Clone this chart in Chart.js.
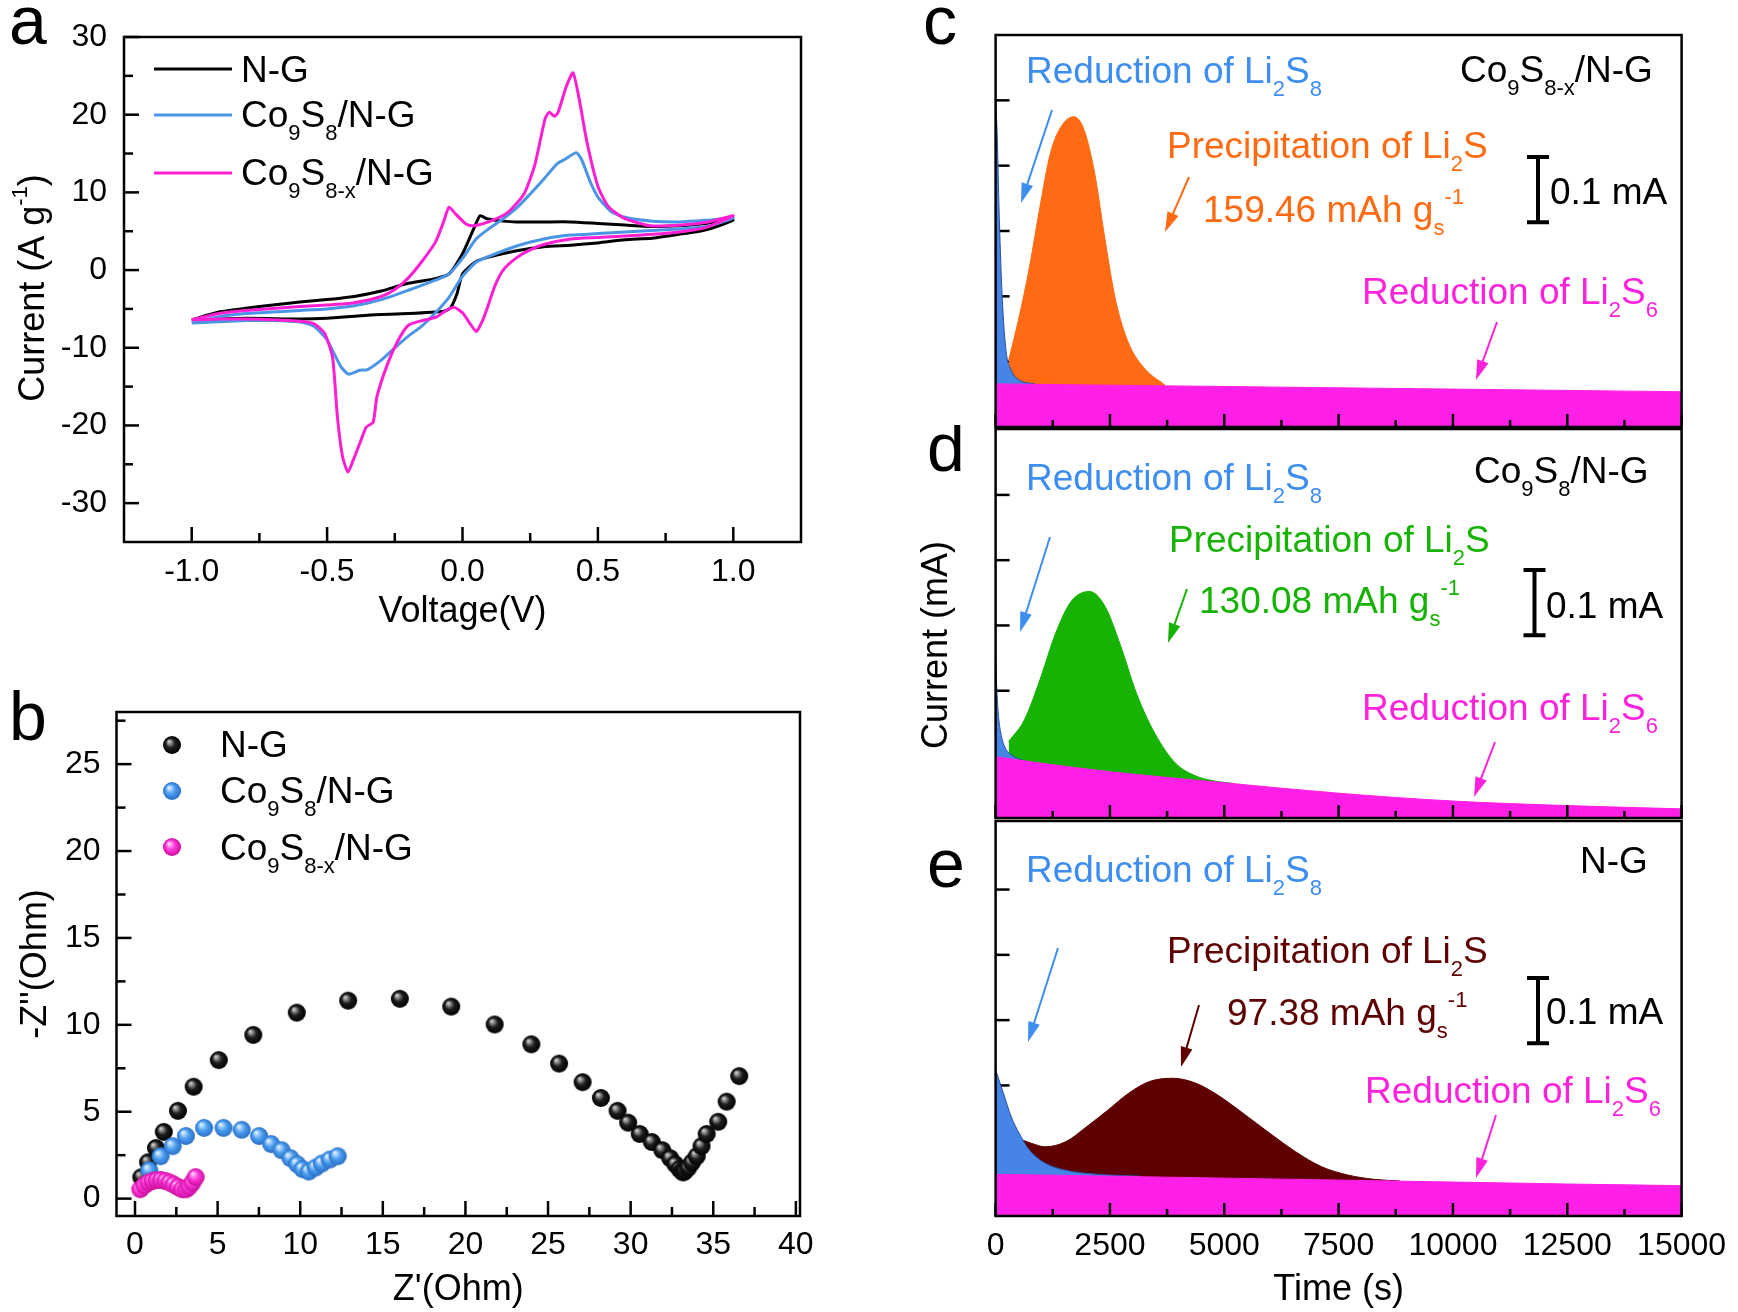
<!DOCTYPE html>
<html>
<head>
<meta charset="utf-8">
<script src="https://cdn.jsdelivr.net/npm/chart.js@4.4.0/dist/chart.umd.min.js"></script>
<style>
  body { margin: 0; background: #fff; }
  #wrap { position: relative; width: 1738px; height: 1312px; overflow: hidden; background: #fff; }
  canvas { position: absolute; }
</style>
</head>
<body>
<div id="wrap">
  <canvas id="cA" width="870" height="650" style="left:0;top:0"></canvas>
  <canvas id="cB" width="870" height="652" style="left:0;top:660px"></canvas>
  <canvas id="cC" width="868" height="430" style="left:870px;top:0"></canvas>
  <canvas id="cD" width="868" height="397" style="left:870px;top:425px"></canvas>
  <canvas id="cE" width="868" height="494" style="left:870px;top:818px"></canvas>
</div>
<script>
// ---- panel a : CV curves (voltage V, current A/g), one closed loop per sample
const ngV = [-1.0, -0.9, -0.8, -0.7, -0.6, -0.5, -0.4, -0.3, -0.2, -0.1, -0.05, 0.0, 0.04, 0.065, 0.09, 0.15, 0.2, 0.3, 0.4, 0.5, 0.6, 0.7, 0.8, 0.9, 1.0,
             0.9, 0.8, 0.7, 0.6, 0.5, 0.4, 0.3, 0.2, 0.1, 0.05, 0.0, -0.02, -0.045, -0.07, -0.2, -0.35, -0.5, -0.6, -0.8, -1.0];
const ngI = [-6.4, -5.4, -4.9, -4.5, -4.1, -3.8, -3.4, -2.7, -1.7, -1.1, -0.5, 2.1, 5.2, 7.0, 6.6, 6.3, 6.2, 6.2, 6.2, 6.0, 5.8, 5.6, 5.7, 6.0, 6.4,
             5.2, 4.6, 4.1, 3.9, 3.5, 3.2, 3.0, 2.5, 1.7, 1.1, -0.5, -3.0, -4.9, -5.3, -5.6, -5.8, -6.2, -6.3, -6.2, -6.4];

const coV = [-1.0, -0.9, -0.8, -0.6, -0.5, -0.4, -0.3, -0.2, -0.1, -0.05, 0.0, 0.05, 0.1, 0.15, 0.2, 0.25, 0.3, 0.35, 0.38, 0.42, 0.44, 0.47, 0.5, 0.55, 0.6, 0.7, 0.8, 0.9, 1.0,
             0.9, 0.8, 0.7, 0.6, 0.5, 0.4, 0.3, 0.2, 0.1, 0.05, 0.0, -0.05, -0.1, -0.15, -0.2, -0.25, -0.3, -0.35, -0.38, -0.42, -0.45, -0.5, -0.55, -0.6, -0.7, -0.8, -1.0];
const coI = [-6.8, -6.0, -5.6, -5.2, -5.0, -4.6, -3.8, -2.6, -1.3, -0.5, 1.5, 4.0, 5.4, 6.6, 8.0, 9.8, 11.7, 13.7, 14.3, 15.1, 14.2, 11.5, 9.4, 7.5, 6.8, 6.3, 6.2, 6.4, 6.7,
             5.6, 5.3, 5.1, 4.9, 4.7, 4.5, 4.0, 3.1, 1.8, 1.0, -0.8, -3.5, -5.5, -7.2, -8.5, -10.0, -11.6, -12.8, -12.9, -13.4, -12.4, -9.0, -7.2, -6.7, -6.5, -6.5, -6.8];

const cxV = [-1.0, -0.9, -0.8, -0.6, -0.5, -0.4, -0.3, -0.25, -0.2, -0.15, -0.1, -0.07, -0.05, -0.025, 0.014, 0.043, 0.11, 0.17, 0.227, 0.266, 0.305, 0.32, 0.34, 0.353, 0.383, 0.408, 0.431, 0.46, 0.5, 0.538, 0.596, 0.693, 0.81, 0.907, 1.0,
             0.9, 0.8, 0.7, 0.6, 0.5, 0.4, 0.3, 0.25, 0.2, 0.15, 0.12, 0.1, 0.08, 0.06, 0.05, 0.03, 0.0, -0.03, -0.06, -0.1, -0.15, -0.2, -0.24, -0.278, -0.316, -0.33, -0.355, -0.375, -0.404, -0.423, -0.443, -0.462, -0.48, -0.51, -0.55, -0.6, -0.7, -0.8, -0.9, -1.0];
const cxI = [-6.4, -5.6, -5.2, -4.7, -4.5, -4.2, -3.4, -2.5, -1.0, 1.1, 3.6, 6.2, 8.1, 7.2, 5.9, 5.7, 6.4, 7.5, 9.8, 13.4, 19.5, 20.3, 19.8, 20.3, 23.6, 25.4, 22.0, 16.4, 10.8, 8.2, 6.7, 5.7, 5.8, 6.2, 7.0,
             5.5, 4.9, 4.6, 4.4, 4.2, 4.0, 3.3, 2.6, 1.6, 0.0, -2.0, -4.0, -6.0, -7.5, -7.9, -7.0, -5.5, -4.8, -5.2, -6.1, -6.5, -7.1, -9.2, -12.2, -16.3, -19.6, -20.2, -21.9, -24.5, -26.0, -24.0, -18.9, -11.2, -8.1, -6.9, -6.6, -6.4, -6.3, -6.3, -6.4];

const cvXTicks = [-1.0, -0.5, 0.0, 0.5, 1.0];
const cvXMinor = [-0.75, -0.25, 0.25, 0.75];
const cvYTicks = [-30, -20, -10, 0, 10, 20, 30];
const cvYMinor = [-25, -15, -5, 5, 15, 25];

// ---- panel b : Nyquist plots (Z' , -Z'' in Ohm)
const ngZre = [0.38, 0.79, 1.27, 1.74, 2.60, 3.55, 5.07, 7.16, 9.79, 12.9, 16.03, 19.14, 21.77, 23.99, 25.67, 27.09, 28.2, 29.21, 29.85, 30.55, 31.28, 31.91, 32.39, 32.7, 32.96, 33.1, 33.18, 33.3, 33.49, 33.72, 34.0, 34.29, 34.6, 35.3, 35.81, 36.57];
const ngZim = [1.23, 2.09, 2.91, 3.84, 5.05, 6.44, 7.97, 9.42, 10.70, 11.39, 11.5, 11.05, 10.02, 8.88, 7.77, 6.70, 5.79, 5.05, 4.37, 3.72, 3.26, 2.79, 2.33, 1.98, 1.70, 1.58, 1.51, 1.6, 1.78, 2.09, 2.44, 3.02, 3.72, 4.42, 5.58, 7.05];
const coZre = [0.86, 1.55, 2.28, 3.08, 4.18, 5.36, 6.46, 7.51, 8.24, 8.87, 9.41, 9.82, 10.14, 10.52, 10.93, 11.31, 11.79, 12.27];
const coZim = [1.63, 2.44, 3.02, 3.60, 4.07, 4.07, 3.96, 3.60, 3.14, 2.79, 2.33, 1.98, 1.70, 1.56, 1.79, 2.02, 2.25, 2.44];
const cxZre = [0.32, 0.57, 0.82, 1.07, 1.33, 1.58, 1.84, 2.09, 2.34, 2.60, 2.85, 3.1, 3.29, 3.48, 3.67];
const cxZim = [0.54, 0.77, 0.93, 1.02, 1.07, 1.07, 1.02, 0.93, 0.81, 0.67, 0.54, 0.54, 0.70, 0.93, 1.24];

const eisXTicks = [0, 5, 10, 15, 20, 25, 30, 35, 40];
const eisXMinor = [2.5, 7.5, 12.5, 17.5, 22.5, 27.5, 32.5, 37.5];
const eisYTicks = [0, 5, 10, 15, 20, 25];
const eisYMinor = [2.5, 7.5, 12.5, 17.5, 22.5, 27.5];

// ---- panels c, d, e : potentiostatic discharge (time s, current mA)
// c : Co9S8-x/N-G
const cT6 = [0, 2500, 5000, 7500, 10000, 12500, 15000];
const cI6 = [0.066, 0.064, 0.062, 0.060, 0.058, 0.056, 0.054];
const cT8 = [0, 34, 80, 148, 228, 342, 513, 855];
const cI8 = [0.500, 0.449, 0.322, 0.194, 0.117, 0.087, 0.072, 0.066];
const cTp = [285, 513, 741, 970, 1198, 1426, 1711, 1939, 2167, 2395, 2624, 2909, 3251, 3707];
const cIp = [0.102, 0.168, 0.245, 0.337, 0.419, 0.459, 0.475, 0.454, 0.388, 0.286, 0.194, 0.128, 0.090, 0.064];
// d : Co9S8/N-G
const dT6 = [0, 1000, 2500, 5000, 7500, 10000, 12500, 15000];
const dI6 = [0.099, 0.089, 0.076, 0.059, 0.043, 0.031, 0.024, 0.019];
const dT8 = [0, 23, 57, 114, 194, 342, 570, 800];
const dI8 = [0.250, 0.207, 0.166, 0.135, 0.115, 0.102, 0.094, 0.090];
const dTp = [285, 627, 970, 1312, 1654, 2053, 2395, 2738, 3080, 3479, 3935, 4392, 4848, 5200];
const dIp = [0.122, 0.155, 0.217, 0.288, 0.337, 0.352, 0.329, 0.268, 0.196, 0.135, 0.089, 0.069, 0.061, 0.058];
// e : N-G
const eT6 = [0, 2500, 5000, 7500, 10000, 12500, 15000];
const eI6 = [0.064, 0.061, 0.058, 0.055, 0.052, 0.049, 0.0465];
const eT8 = [0, 171, 342, 513, 741, 1084, 1540, 2224, 3137];
const eI8 = [0.224, 0.188, 0.152, 0.127, 0.101, 0.081, 0.070, 0.064, 0.061];
const eTp = [600, 798, 1084, 1540, 1996, 2452, 2909, 3365, 3878, 4392, 4905, 5418, 5989, 6559, 7129, 7700, 8270, 8840];
const eIp = [0.116, 0.111, 0.106, 0.114, 0.137, 0.162, 0.188, 0.206, 0.211, 0.203, 0.183, 0.157, 0.127, 0.0985, 0.0755, 0.0628, 0.0562, 0.0536];

const timeTicks = [0, 2500, 5000, 7500, 10000, 12500, 15000];
const timeMinor = [1250, 3750, 6250, 8750, 11250, 13750];
const currTicks = [0.1, 0.2, 0.3, 0.4, 0.5];

// ---- colours / fonts
const FONT = '"Liberation Sans", Arial, Helvetica, sans-serif';
const BLUE_L = '#4a95e6', PINK_L = '#ff1fd2';
const BLUE_F = '#4684e6', PINK_F = '#ff1fe6';
const BLUE_T = '#3d8ef0', PINK_T = '#ff22dc';
const ORANGE = '#ff6a12', GREEN = '#16b204', DRED = '#5e0000';
const ANN = 37;   // annotation font size

Chart.defaults.color = '#000';
Chart.defaults.font.family = FONT;

const pts = (xs, ys) => xs.map((x, k) => ({ x: x, y: ys[k] }));

function sphere(hi, base, dark, r) {
  const c = document.createElement('canvas');
  c.width = c.height = 2 * r + 2;
  const g = c.getContext('2d');
  const m = r + 1;
  const grad = g.createRadialGradient(m - r * 0.35, m - r * 0.4, r * 0.05, m, m, r);
  grad.addColorStop(0, hi);
  grad.addColorStop(0.5, base);
  grad.addColorStop(1, dark);
  g.fillStyle = grad;
  g.beginPath(); g.arc(m, m, r, 0, Math.PI * 2); g.fill();
  return c;
}
const ballBlack = sphere('#d0d0d0', '#1e1e1e', '#000000', 9);
const ballBlue = sphere('#e6f3ff', '#4b9ef0', '#2a6ec4', 9);
const ballPink = sphere('#ffd6f6', '#ff35dc', '#c8109a', 9);

function drawRich(ctx, parts, x, y, size, fill) {
  let cx = x;
  for (const [t, k] of parts) {
    const s = k === 'n' ? size : Math.round(size * 0.6);
    const dy = k === 'sub' ? size * 0.36 : (k === 'sup' ? -size * 0.48 : 0);
    ctx.font = s + 'px ' + FONT;
    if (fill) ctx.fillText(t, cx, y + dy);
    cx += ctx.measureText(t).width;
  }
  return cx - x;
}

function arrow(ctx, x1, y1, x2, y2, color) {
  const a = Math.atan2(y2 - y1, x2 - x1), L = 20, W = 6;
  ctx.strokeStyle = color; ctx.fillStyle = color; ctx.lineWidth = 2;
  ctx.beginPath(); ctx.moveTo(x1, y1);
  ctx.lineTo(x2 - L * 0.8 * Math.cos(a), y2 - L * 0.8 * Math.sin(a)); ctx.stroke();
  ctx.beginPath(); ctx.moveTo(x2, y2);
  ctx.lineTo(x2 - L * Math.cos(a) + W * Math.sin(a), y2 - L * Math.sin(a) - W * Math.cos(a));
  ctx.lineTo(x2 - L * Math.cos(a) - W * Math.sin(a), y2 - L * Math.sin(a) + W * Math.cos(a));
  ctx.closePath(); ctx.fill();
}

// frame, inward ticks, legends and labels for one panel (positions given in page px)
function makeDecor(cfg) {
  const ox = cfg.off[0], oy = cfg.off[1];
  function yTicks(chart) {
    const ctx = chart.ctx, a = chart.chartArea, y = chart.scales.y;
    ctx.save(); ctx.strokeStyle = '#000'; ctx.lineWidth = 2.5;
    cfg.y.major.forEach(v => { const p = y.getPixelForValue(v); ctx.beginPath(); ctx.moveTo(a.left, p); ctx.lineTo(a.left + cfg.y.len[0], p); ctx.stroke(); });
    (cfg.y.minor || []).forEach(v => { const p = y.getPixelForValue(v); ctx.beginPath(); ctx.moveTo(a.left, p); ctx.lineTo(a.left + cfg.y.len[1], p); ctx.stroke(); });
    ctx.restore();
  }
  function xTicks(chart) {
    const ctx = chart.ctx, a = chart.chartArea, x = chart.scales.x;
    ctx.save(); ctx.strokeStyle = '#000'; ctx.lineWidth = 2.5;
    cfg.x.major.forEach(v => { const p = x.getPixelForValue(v); ctx.beginPath(); ctx.moveTo(p, a.bottom); ctx.lineTo(p, a.bottom - cfg.x.len[0]); ctx.stroke(); });
    (cfg.x.minor || []).forEach(v => { const p = x.getPixelForValue(v); ctx.beginPath(); ctx.moveTo(p, a.bottom); ctx.lineTo(p, a.bottom - cfg.x.len[1]); ctx.stroke(); });
    ctx.restore();
  }
  return {
    id: 'decor',
    beforeDatasetsDraw(chart) { if (cfg.yUnder) yTicks(chart); },
    afterDatasetsDraw(chart) {
      const ctx = chart.ctx, a = chart.chartArea;
      if (!cfg.yUnder) yTicks(chart);
      xTicks(chart);
      ctx.save();
      ctx.strokeStyle = '#000'; ctx.lineWidth = 2.5;
      ctx.strokeRect(a.left, a.top, a.right - a.left, a.bottom - a.top);
      (cfg.lines || []).forEach(l => {
        ctx.strokeStyle = l.color; ctx.lineWidth = 3;
        ctx.beginPath(); ctx.moveTo(l.x1 - ox, l.y - oy); ctx.lineTo(l.x2 - ox, l.y - oy); ctx.stroke();
      });
      (cfg.balls || []).forEach(b => ctx.drawImage(b.img, b.x - ox - b.img.width / 2, b.y - oy - b.img.height / 2));
      (cfg.arrows || []).forEach(r => arrow(ctx, r[0] - ox, r[1] - oy, r[2] - ox, r[3] - oy, r[4]));
      if (cfg.bar) {
        const y = chart.scales.y;
        const h = y.getPixelForValue(0.2) - y.getPixelForValue(0.3);
        const bx = cfg.bar.x - ox, by = cfg.bar.top - oy;
        ctx.strokeStyle = '#000'; ctx.lineWidth = 4;
        ctx.beginPath();
        ctx.moveTo(bx, by); ctx.lineTo(bx, by + h);
        ctx.moveTo(bx - 11, by); ctx.lineTo(bx + 11, by);
        ctx.moveTo(bx - 11, by + h); ctx.lineTo(bx + 11, by + h);
        ctx.stroke();
      }
      ctx.textBaseline = 'alphabetic'; ctx.textAlign = 'left';
      (cfg.texts || []).forEach(t => {
        ctx.fillStyle = t.color;
        if (t.rot) {
          ctx.save();
          ctx.translate(t.x - ox, t.y - oy); ctx.rotate(-Math.PI / 2);
          const w = drawRich(ctx, t.parts, 0, 0, t.size, false);
          drawRich(ctx, t.parts, -w / 2, t.size * 0.36, t.size, true);
          ctx.restore();
        } else {
          drawRich(ctx, t.parts, t.x - ox, t.y - oy, t.size, true);
        }
      });
      if (cfg.letter) {
        ctx.fillStyle = '#000'; ctx.font = '68px ' + FONT;
        ctx.fillText(cfg.letter[0], cfg.letter[1] - ox, cfg.letter[2] - oy);
      }
      ctx.restore();
    }
  };
}

const tickFont = { family: FONT, size: 32 };
const titleFont = { family: FONT, size: 36 };
const noGrid = { display: false, drawTicks: false };

// ---------------- panel a
new Chart(document.getElementById('cA'), {
  type: 'scatter',
  data: {
    datasets: [
      { data: pts(cxV, cxI), borderColor: PINK_L },
      { data: pts(coV, coI), borderColor: BLUE_L },
      { data: pts(ngV, ngI), borderColor: '#000' }
    ]
  },
  options: {
    responsive: false, animation: false,
    layout: { padding: { left: 0, top: 37, right: 69, bottom: 0 } },
    plugins: { legend: { display: false }, tooltip: { enabled: false } },
    datasets: { scatter: { showLine: true, pointRadius: 0, borderWidth: 3, tension: 0.2 } },
    scales: {
      x: {
        type: 'linear', min: -1.25, max: 1.25, grid: noGrid, border: { display: false },
        afterBuildTicks: s => { s.ticks = cvXTicks.map(v => ({ value: v })); },
        afterFit: s => { s.height = 108; },
        ticks: { font: tickFont, color: '#000', padding: 11, autoSkip: false, maxRotation: 0, callback: v => v.toFixed(1) },
        title: { display: true, text: 'Voltage(V)', font: titleFont, color: '#000', padding: { top: 0, bottom: 16 } }
      },
      y: {
        type: 'linear', min: -35, max: 30, grid: noGrid, border: { display: false },
        afterBuildTicks: s => { s.ticks = cvYTicks.map(v => ({ value: v })); },
        afterFit: s => { s.width = 124; },
        ticks: { font: tickFont, color: '#000', padding: 17, autoSkip: false, callback: v => String(v) }
      }
    }
  },
  plugins: [makeDecor({
    off: [0, 0],
    x: { major: cvXTicks, minor: cvXMinor, len: [15, 9] },
    y: { major: cvYTicks, minor: cvYMinor, len: [15, 9] },
    lines: [
      { x1: 154, x2: 232, y: 69, color: '#000' },
      { x1: 154, x2: 232, y: 115, color: BLUE_L },
      { x1: 154, x2: 232, y: 173, color: PINK_L }
    ],
    texts: [
      { x: 241, y: 82, size: 37, color: '#000', parts: [['N-G', 'n']] },
      { x: 241, y: 127, size: 37, color: '#000', parts: [['Co', 'n'], ['9', 'sub'], ['S', 'n'], ['8', 'sub'], ['/N-G', 'n']] },
      { x: 241, y: 185, size: 37, color: '#000', parts: [['Co', 'n'], ['9', 'sub'], ['S', 'n'], ['8-x', 'sub'], ['/N-G', 'n']] },
      { x: 31, y: 288, size: 36, color: '#000', rot: true, parts: [['Current (A g', 'n'], ['-1', 'sup'], [')', 'n']] }
    ],
    letter: ['a', 9, 44]
  })]
});

// ---------------- panel b
new Chart(document.getElementById('cB'), {
  type: 'scatter',
  data: {
    datasets: [
      { data: pts(cxZre, cxZim), pointStyle: ballPink },
      { data: pts(coZre, coZim), pointStyle: ballBlue },
      { data: pts(ngZre, ngZim), pointStyle: ballBlack }
    ]
  },
  options: {
    responsive: false, animation: false,
    layout: { padding: { left: 0, top: 52, right: 70, bottom: 0 } },
    plugins: { legend: { display: false }, tooltip: { enabled: false } },
    datasets: { scatter: { pointRadius: 9 } },
    scales: {
      x: {
        type: 'linear', min: -1.12, max: 40.25, grid: noGrid, border: { display: false },
        afterBuildTicks: s => { s.ticks = eisXTicks.map(v => ({ value: v })); },
        afterFit: s => { s.height = 96; },
        ticks: { font: tickFont, color: '#000', padding: 10, autoSkip: false, maxRotation: 0, callback: v => String(v) },
        title: { display: true, text: "Z'(Ohm)", font: titleFont, color: '#000', padding: { top: 0, bottom: 0 } }
      },
      y: {
        type: 'linear', min: -1, max: 28, grid: noGrid, border: { display: false },
        afterBuildTicks: s => { s.ticks = eisYTicks.map(v => ({ value: v })); },
        afterFit: s => { s.width = 116.5; },
        ticks: { font: tickFont, color: '#000', padding: 16, autoSkip: false, callback: v => String(v) },
        title: { display: true, text: "-Z''(Ohm)", font: titleFont, color: '#000', padding: { top: 14, bottom: 0 } }
      }
    }
  },
  plugins: [makeDecor({
    off: [0, 660],
    x: { major: eisXTicks, minor: eisXMinor, len: [15, 9] },
    y: { major: eisYTicks, minor: eisYMinor, len: [15, 9] },
    balls: [
      { x: 172, y: 745, img: ballBlack },
      { x: 172, y: 791, img: ballBlue },
      { x: 172, y: 847, img: ballPink }
    ],
    texts: [
      { x: 220, y: 757, size: 37, color: '#000', parts: [['N-G', 'n']] },
      { x: 220, y: 803, size: 37, color: '#000', parts: [['Co', 'n'], ['9', 'sub'], ['S', 'n'], ['8', 'sub'], ['/N-G', 'n']] },
      { x: 220, y: 860, size: 37, color: '#000', parts: [['Co', 'n'], ['9', 'sub'], ['S', 'n'], ['8-x', 'sub'], ['/N-G', 'n']] }
    ],
    letter: ['b', 9, 740]
  })]
});

// ---------------- panels c, d, e
function timeChart(id, padTop, xH, yMin, yMax, sets, showX, decor) {
  return new Chart(document.getElementById(id), {
    type: 'line',
    data: {
      datasets: sets.map(s => ({
        data: pts(s[0], s[1]), backgroundColor: s[2], borderColor: s[3], borderWidth: 1, fill: 'origin'
      }))
    },
    options: {
      responsive: false, animation: false,
      layout: { padding: { left: 0, top: padTop, right: 56.4, bottom: 0 } },
      plugins: { legend: { display: false }, tooltip: { enabled: false } },
      elements: { point: { radius: 0 }, line: { cubicInterpolationMode: 'monotone' } },
      scales: {
        x: {
          type: 'linear', min: 0, max: 15000, grid: noGrid, border: { display: false },
          afterBuildTicks: s => { s.ticks = timeTicks.map(v => ({ value: v })); },
          afterFit: s => { s.height = xH; },
          ticks: showX ? { font: tickFont, color: '#000', padding: 11, autoSkip: false, maxRotation: 0, callback: v => String(v) } : { display: false },
          title: showX ? { display: true, text: 'Time (s)', font: titleFont, color: '#000', padding: { top: 0, bottom: 0 } } : { display: false }
        },
        y: {
          type: 'linear', min: yMin, max: yMax, grid: noGrid, border: { display: false },
          ticks: { display: false },
          afterFit: s => { s.width = 125.6; }
        }
      }
    },
    plugins: [makeDecor(Object.assign({
      x: { major: timeTicks, minor: timeMinor, len: [13, 7] },
      y: { major: currTicks, len: [14, 14] },
      yUnder: true
    }, decor))]
  });
}

const li2s8 = [['Reduction of Li', 'n'], ['2', 'sub'], ['S', 'n'], ['8', 'sub']];
const li2s6 = [['Reduction of Li', 'n'], ['2', 'sub'], ['S', 'n'], ['6', 'sub']];
const li2s = [['Precipitation of Li', 'n'], ['2', 'sub'], ['S', 'n']];
const mA = [['0.1 mA', 'n']];

timeChart('cC', 35, 3, 0, 0.6, [
  [cT6, cI6, PINK_F, PINK_F],
  [cT8, cI8, BLUE_F, '#2a4f9e'],
  [cTp, cIp, ORANGE, ORANGE]
], false, {
  off: [870, 0],
  texts: [
    { x: 1026, y: 83, size: ANN, color: BLUE_T, parts: li2s8 },
    { x: 1460, y: 82, size: ANN, color: '#000', parts: [['Co', 'n'], ['9', 'sub'], ['S', 'n'], ['8-x', 'sub'], ['/N-G', 'n']] },
    { x: 1167, y: 158, size: ANN, color: ORANGE, parts: li2s },
    { x: 1203, y: 222, size: ANN, color: ORANGE, parts: [['159.46 mAh g', 'n'], ['s', 'sub'], ['-1', 'sup']] },
    { x: 1362, y: 304, size: ANN, color: PINK_T, parts: li2s6 },
    { x: 1550, y: 204, size: ANN, color: '#000', parts: mA }
  ],
  arrows: [
    [1052, 110, 1021, 203, BLUE_T],
    [1189, 177, 1165, 232, ORANGE],
    [1497, 322, 1476, 380, PINK_T]
  ],
  bar: { x: 1538, top: 157 },
  letter: ['c', 923, 44]
});

timeChart('cD', 4, 4, 0.005, 0.601, [
  [dT6, dI6, PINK_F, PINK_F],
  [dT8, dI8, BLUE_F, '#2a4f9e'],
  [dTp, dIp, GREEN, GREEN]
], false, {
  off: [870, 425],
  texts: [
    { x: 1026, y: 490, size: ANN, color: BLUE_T, parts: li2s8 },
    { x: 1474, y: 483, size: ANN, color: '#000', parts: [['Co', 'n'], ['9', 'sub'], ['S', 'n'], ['8', 'sub'], ['/N-G', 'n']] },
    { x: 1169, y: 552, size: ANN, color: GREEN, parts: li2s },
    { x: 1199, y: 613, size: ANN, color: GREEN, parts: [['130.08 mAh g', 'n'], ['s', 'sub'], ['-1', 'sup']] },
    { x: 1362, y: 720, size: ANN, color: PINK_T, parts: li2s6 },
    { x: 1546, y: 618, size: ANN, color: '#000', parts: mA },
    { x: 934, y: 645, size: 36, color: '#000', rot: true, parts: [['Current (mA)', 'n']] }
  ],
  arrows: [
    [1050, 537, 1020, 632, BLUE_T],
    [1187, 589, 1168, 643, GREEN],
    [1495, 742, 1474, 797, PINK_T]
  ],
  bar: { x: 1534.5, top: 570 },
  letter: ['d', 927, 471]
});

timeChart('cE', 3, 96, 0, 0.605, [
  [eT6, eI6, PINK_F, PINK_F],
  [eT8, eI8, BLUE_F, '#2a4f9e'],
  [eTp, eIp, DRED, DRED]
], true, {
  off: [870, 818],
  texts: [
    { x: 1026, y: 882, size: ANN, color: BLUE_T, parts: li2s8 },
    { x: 1580, y: 873, size: ANN, color: '#000', parts: [['N-G', 'n']] },
    { x: 1167, y: 963, size: ANN, color: DRED, parts: li2s },
    { x: 1227, y: 1025, size: ANN, color: DRED, parts: [['97.38 mAh g', 'n'], ['s', 'sub'], ['-1', 'sup']] },
    { x: 1365, y: 1103, size: ANN, color: PINK_T, parts: li2s6 },
    { x: 1546, y: 1024, size: ANN, color: '#000', parts: mA }
  ],
  arrows: [
    [1058, 948, 1028, 1042, BLUE_T],
    [1199, 1005, 1181, 1067, DRED],
    [1496, 1115, 1476, 1178, PINK_T]
  ],
  bar: { x: 1538, top: 978 },
  letter: ['e', 927, 887]
});
</script>
</body>
</html>
